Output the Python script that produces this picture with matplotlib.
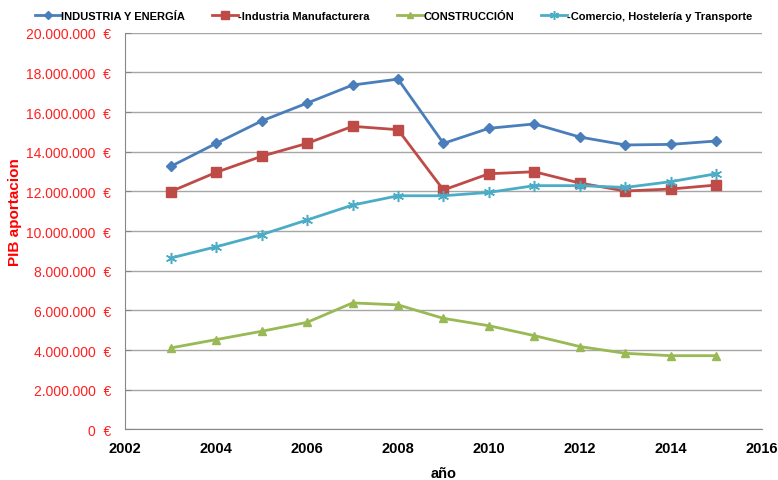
import matplotlib
matplotlib.use("Agg")
import matplotlib.pyplot as plt
from matplotlib.ticker import FuncFormatter

plt.rcParams['font.family'] = ['Liberation Sans', 'DejaVu Sans']

years = [2003, 2004, 2005, 2006, 2007, 2008, 2009, 2010, 2011, 2012, 2013, 2014, 2015]
industria = [13.26, 14.42, 15.55, 16.45, 17.36, 17.66, 14.42, 15.18, 15.40, 14.74, 14.34, 14.37, 14.54]
manufacturera = [11.99, 12.96, 13.77, 14.42, 15.28, 15.11, 12.07, 12.89, 12.99, 12.42, 12.02, 12.12, 12.32]
construccion = [4.11, 4.53, 4.95, 5.40, 6.38, 6.28, 5.60, 5.23, 4.73, 4.18, 3.84, 3.72, 3.72]
comercio = [8.64, 9.21, 9.82, 10.56, 11.31, 11.78, 11.78, 11.95, 12.29, 12.29, 12.20, 12.49, 12.89]

fig = plt.figure(figsize=(7.78, 4.81), dpi=100)
ax = fig.add_axes([0.161, 0.105, 0.818, 0.825])

M = 1e6
ax.plot(years, [v * M for v in industria], color='#4a7ebb', marker='D', ms=5, lw=2,
        label='INDUSTRIA Y ENERGÍA')
ax.plot(years, [v * M for v in manufacturera], color='#be4b48', marker='s', ms=7, lw=2,
        label='-Industria Manufacturera')
ax.plot(years, [v * M for v in construccion], color='#98b954', marker='^', ms=6, lw=2,
        label='CONSTRUCCIÓN')
# excel style asterisk marker
ax.plot(years, [v * M for v in comercio], color='#4bacc6', marker=(6, 2, 0), ms=8, mew=1.1, lw=2,
        label='-Comercio, Hostelería y Transporte')

ax.set_xlim(2002, 2016)
ax.set_ylim(0, 20e6)
ax.set_xticks(range(2002, 2017, 2))
ax.set_yticks([i * 2e6 for i in range(11)])

def fmt(v, pos):
    s = '{:,.0f}'.format(v).replace(',', '.')
    return s + '  €'

ax.yaxis.set_major_formatter(FuncFormatter(fmt))
ax.tick_params(axis='y', labelcolor='#ff2020', labelsize=10, direction='in', length=4,
               color='#888888', pad=10)
ax.tick_params(axis='x', labelsize=10.5, length=0, pad=8)
for lab in ax.get_xticklabels():
    lab.set_fontweight('bold')

ax.grid(axis='y', color='#a6a6a6', lw=1)
ax.set_axisbelow(True)
for s in ['top', 'right']:
    ax.spines[s].set_visible(False)
for s in ['left', 'bottom']:
    ax.spines[s].set_color('#888888')

ax.set_xlabel('año', fontsize=10.5, fontweight='bold', labelpad=8)
ax.set_ylabel('PIB aportacion', fontsize=11, fontweight='bold', color='#ff0000')
ax.yaxis.set_label_coords(-0.162, 0.55)

fig.legend(loc='upper left', bbox_to_anchor=(0.033, 0.993), ncol=4, frameon=False,
           prop={'weight': 'bold', 'size': 8}, handlelength=2.4, columnspacing=2.4,
           handletextpad=0.0, borderaxespad=0.4, markerscale=0.8)

fig.savefig('out.png', dpi=100)
